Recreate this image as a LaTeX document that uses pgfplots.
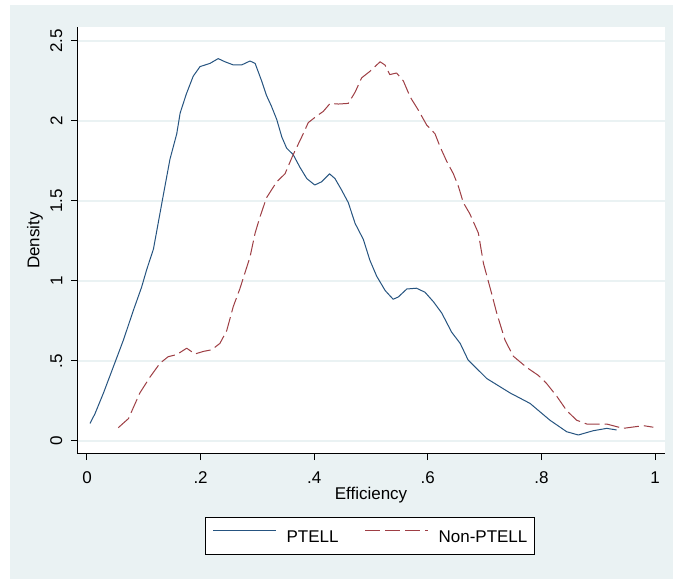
\documentclass[border=0pt]{standalone}
\usepackage{fontspec}
\setmainfont{Liberation Sans}
\usepackage{pgfplots}
\pgfplotsset{compat=1.18}
\definecolor{stnavy}{RGB}{38,84,128}
\definecolor{stmaroon}{RGB}{158,62,68}
\definecolor{stbg}{RGB}{234,242,243}
\begin{document}
\begin{tikzpicture}
\useasboundingbox (0pt,0pt) rectangle (673pt,579pt);
\fill[white] (0pt,0pt) rectangle (673pt,579pt);
\fill[stbg] (10pt,0pt) rectangle (673pt,574pt);
\begin{axis}[
  at={(77pt,125pt)}, anchor=south west,
  scale only axis, width=588pt, height=427pt,
  xmin=-0.0176, xmax=1.0176, ymin=-0.08125, ymax=2.5875,
  axis background/.style={fill=white},
  axis x line*=bottom, axis y line*=left,
  axis line style={black, line width=1pt, -},
  font=\fontsize{17}{20}\selectfont,
  /pgf/number format/assume math mode=true,
  xtick={0,0.2,0.4,0.6,0.8,1}, xticklabels={0,.2,.4,.6,.8,1},
  ytick={0,0.5,1,1.5,2,2.5}, yticklabels={0,.5,1,1.5,2,2.5},
  tick align=outside, major tick length=6pt,
  tick style={black, line width=1pt},
  xticklabel style={anchor=north, inner sep=0pt, yshift=-11.5pt},
  yticklabel style={rotate=90, anchor=south, inner sep=0pt, xshift=0pt, yshift=8.5pt},
  ymajorgrids, grid style={color=stbg, line width=1.3pt},
  xlabel={Efficiency}, ylabel={Density},
  xlabel style={at={(axis description cs:0.5,-0.0773)}, anchor=north, inner sep=0pt},
  ylabel style={at={(axis description cs:-0.0578,0.5)}, anchor=south, inner sep=0pt},
  legend columns=2,
  legend image code/.code={\draw[#1] (0pt,6pt) -- (63pt,6pt);},
  legend style={at={(axis description cs:0.4983,-0.192)}, anchor=center,
    draw=black, line width=1pt, fill=white, inner xsep=7pt, inner ysep=12.5pt,
    font=\fontsize{17}{20}\selectfont,
    nodes={inner sep=0pt, text height=12.2pt, text depth=0pt},
    /tikz/every odd column/.append style={column sep=10pt},
    /tikz/every even column/.append style={column sep=26pt}},
]
\addplot[stnavy, line width=1pt, line join=round] coordinates {
(0.0053,0.11) (0.014,0.17) (0.029,0.30) (0.046,0.46) (0.064,0.63)
(0.082,0.82) (0.096,0.96) (0.105,1.07) (0.117,1.20) (0.134,1.53)
(0.146,1.76) (0.158,1.92) (0.164,2.05) (0.175,2.17) (0.187,2.28)
(0.199,2.34) (0.2165,2.36) (0.231,2.39) (0.243,2.37) (0.258,2.35)
(0.272,2.35) (0.287,2.375) (0.296,2.36) (0.3075,2.25) (0.316,2.16)
(0.325,2.09) (0.334,2.01) (0.343,1.90) (0.3515,1.83) (0.363,1.79)
(0.375,1.71) (0.387,1.64) (0.401,1.60) (0.413,1.62) (0.427,1.67)
(0.4366,1.64) (0.448,1.57) (0.460,1.49) (0.472,1.36) (0.4865,1.26)
(0.498,1.13) (0.510,1.03) (0.525,0.94) (0.539,0.886) (0.548,0.90)
(0.563,0.95) (0.580,0.955) (0.595,0.93) (0.610,0.87) (0.6245,0.80)
(0.642,0.68) (0.657,0.61) (0.671,0.506) (0.704,0.39) (0.745,0.30)
(0.780,0.235) (0.815,0.13) (0.8445,0.058) (0.865,0.0375) (0.891,0.064)
(0.915,0.079) (0.9325,0.069)
};
\addlegendentry{PTELL}
\addplot[stmaroon, line width=1pt, line join=round, dash pattern=on 15pt off 5pt] coordinates {
(0.055,0.083) (0.073,0.14) (0.093,0.30) (0.111,0.40) (0.1285,0.486)
(0.143,0.527) (0.158,0.54) (0.1755,0.58) (0.190,0.544) (0.205,0.56)
(0.2195,0.57) (0.234,0.61) (0.246,0.69) (0.2575,0.84) (0.269,0.95)
(0.278,1.05) (0.287,1.15) (0.296,1.30) (0.3045,1.40) (0.316,1.52)
(0.334,1.62) (0.3486,1.67) (0.363,1.79) (0.378,1.90) (0.3896,1.99)
(0.404,2.03) (0.416,2.06) (0.428,2.11) (0.4425,2.106) (0.460,2.11)
(0.472,2.18) (0.4836,2.27) (0.498,2.31) (0.516,2.37) (0.5246,2.35)
(0.533,2.29) (0.545,2.30) (0.557,2.25) (0.569,2.15) (0.583,2.07)
(0.598,1.975) (0.6127,1.92) (0.6215,1.84) (0.633,1.75) (0.645,1.67)
(0.654,1.59) (0.6625,1.49) (0.674,1.42) (0.689,1.30) (0.698,1.11)
(0.7125,0.92) (0.7213,0.80) (0.736,0.63) (0.7505,0.53) (0.774,0.46)
(0.7946,0.41) (0.809,0.36) (0.827,0.28) (0.8445,0.19) (0.862,0.13)
(0.880,0.106) (0.915,0.106) (0.944,0.079) (0.9795,0.096) (0.997,0.086)
};
\addlegendentry{Non-PTELL}
\end{axis}
\end{tikzpicture}
\end{document}
